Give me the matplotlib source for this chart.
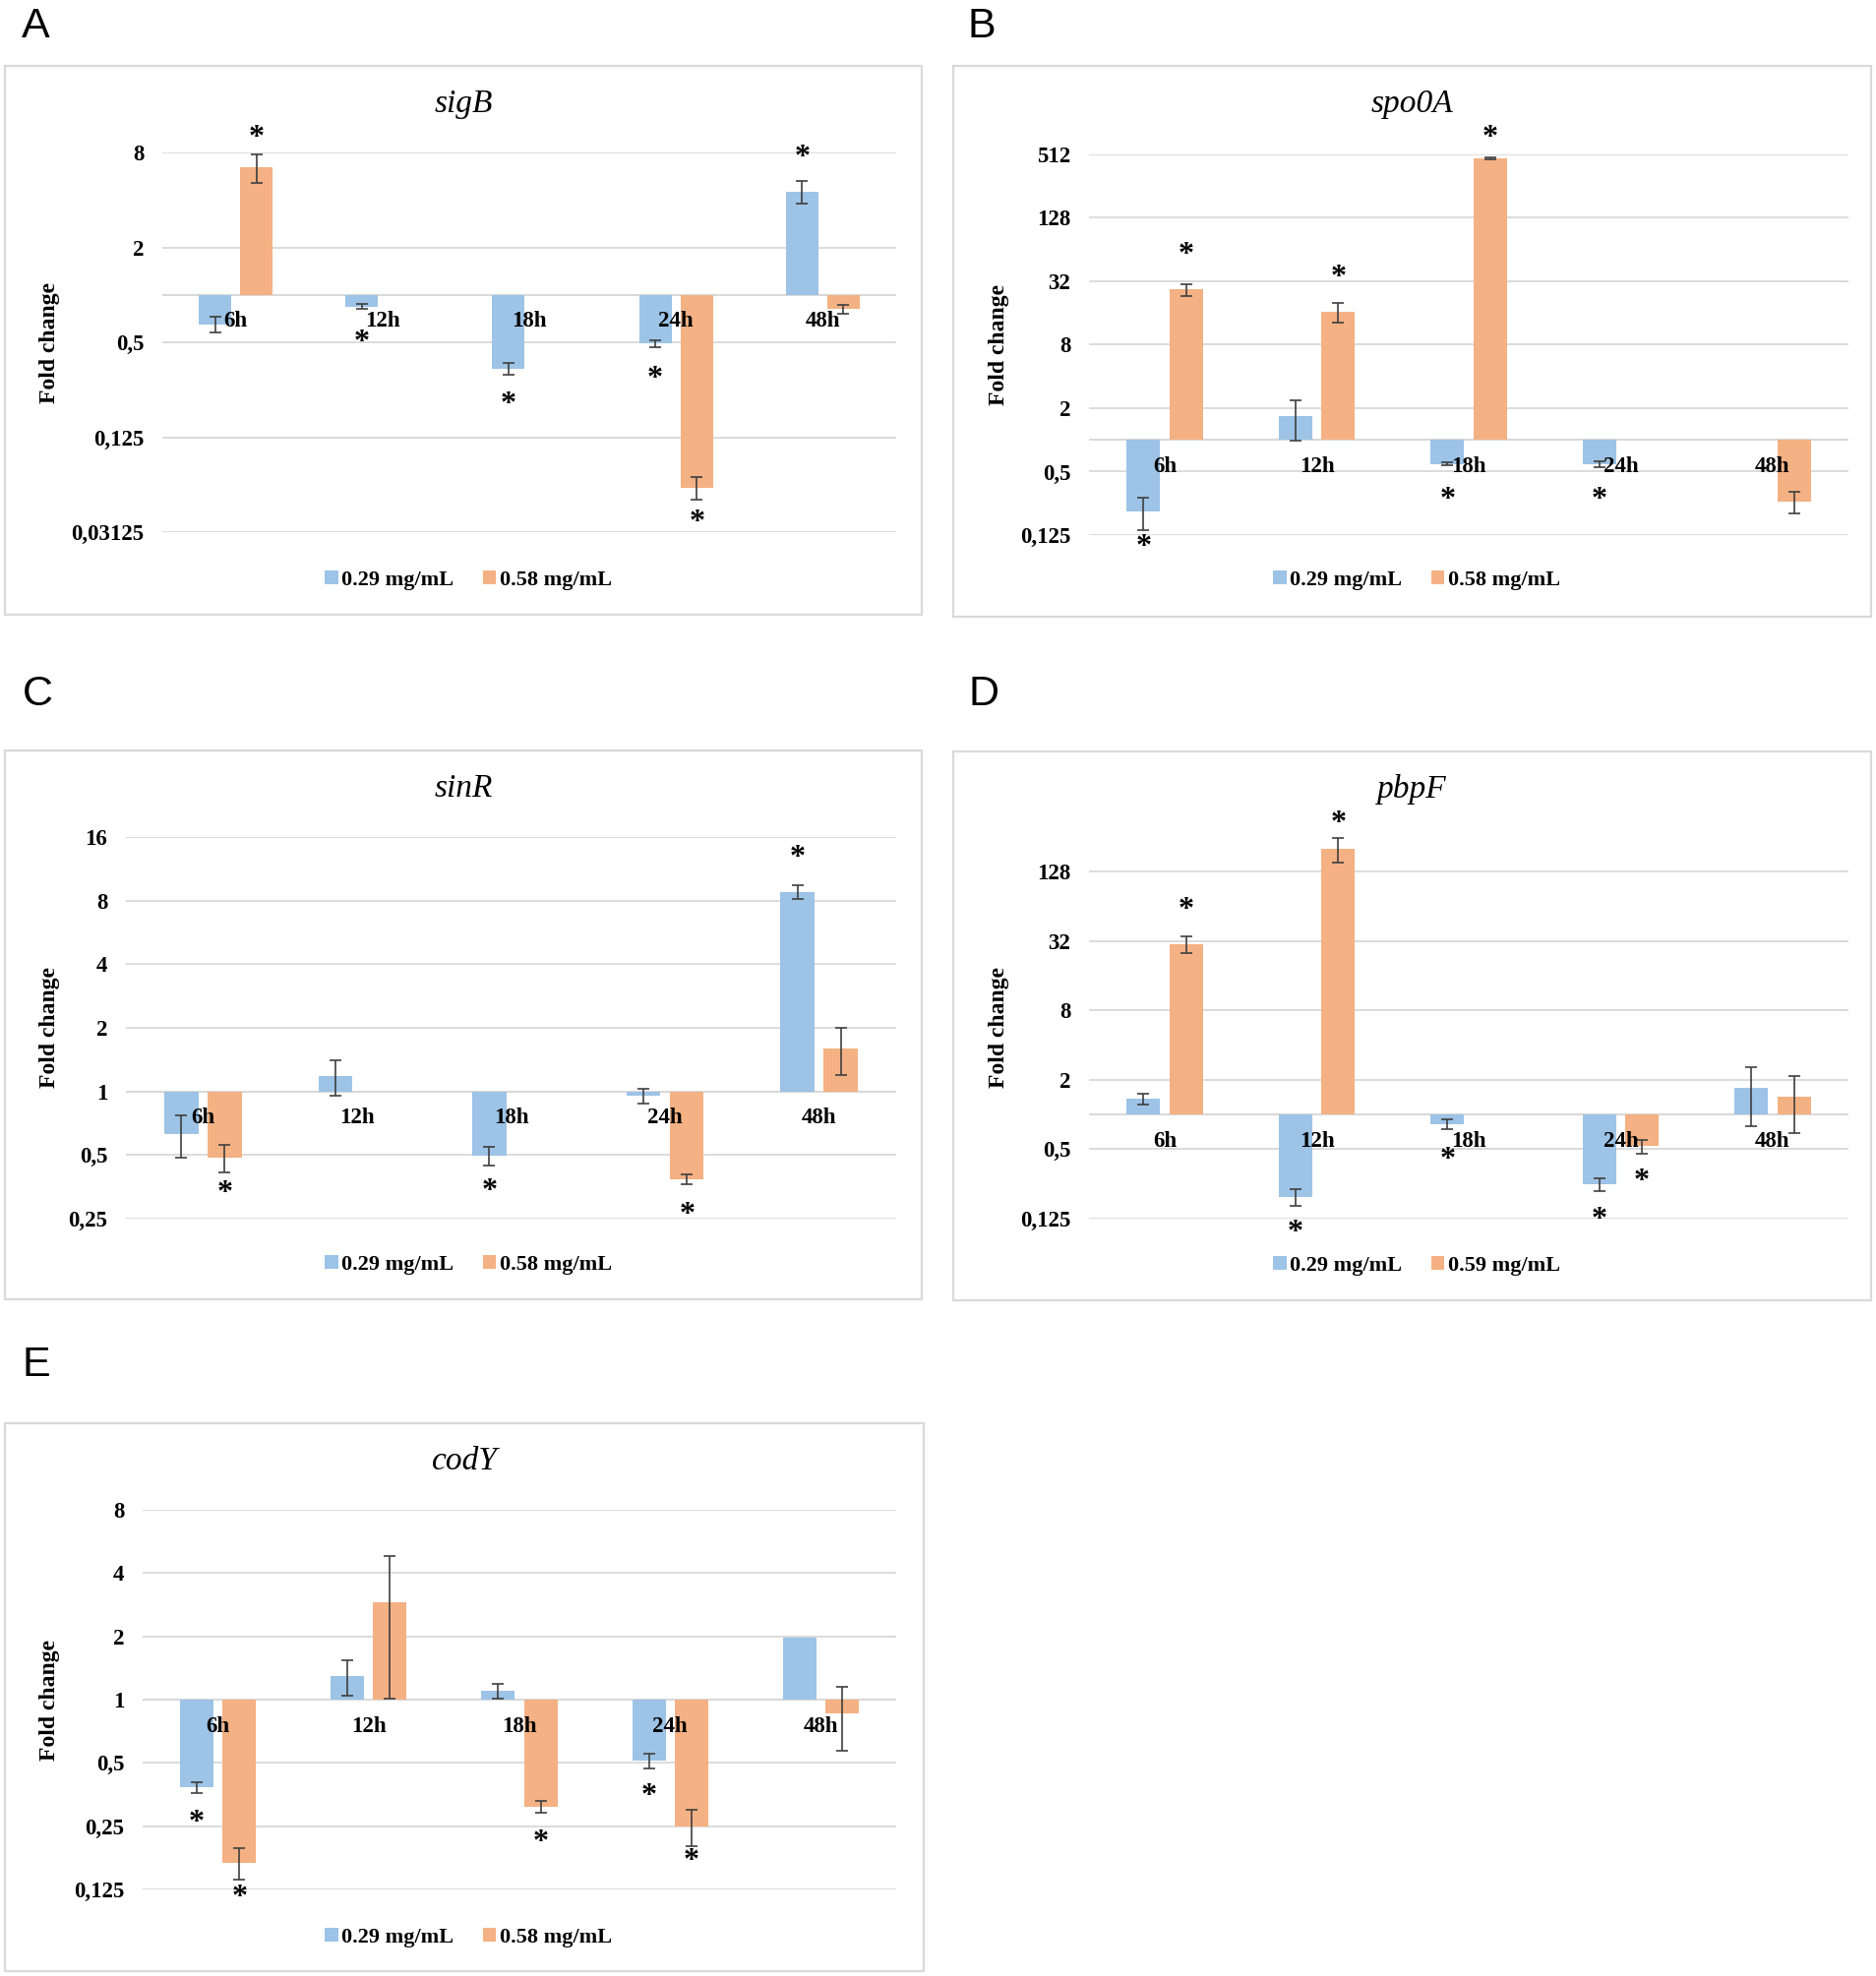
import numpy as np
import matplotlib
matplotlib.use("Agg")
import matplotlib.pyplot as plt
from matplotlib.patches import Patch, Rectangle

nan = np.nan

# ---------------- data ----------------
categories = ["6h", "12h", "18h", "24h", "48h"]

sigB_low = [0.65, 0.84, 0.34, 0.49, 4.52]
sigB_low_sd = [0.073, 0.03, 0.03, 0.024, 0.74]
sigB_high = [6.44, nan, nan, 0.06, 0.81]
sigB_high_sd = [1.3, 0, 0, 0.01, 0.047]
sigB_low_sig = [0, 1, 1, 1, 1]
sigB_high_sig = [1, 0, 0, 1, 0]
sigB_ticks = [8, 2, 0.5, 0.125, 0.03125]
sigB_ticklabels = ["8", "2", "0,5", "0,125", "0,03125"]

spo0A_low = [0.21, 1.69, 0.59, 0.59, nan]
spo0A_low_sd = [0.07, 0.7, 0.02, 0.04, 0]
spo0A_high = [26.8, 16.4, 469, nan, 0.261]
spo0A_high_sd = [3.5, 3.5, 8, 0, 0.06]
spo0A_low_sig = [1, 0, 1, 1, 0]
spo0A_high_sig = [1, 1, 1, 0, 0]
spo0A_ticks = [512, 128, 32, 8, 2, 0.5, 0.125]
spo0A_ticklabels = ["512", "128", "32", "8", "2", "0,5", "0,125"]

sinR_low = [0.627, 1.18, 0.496, 0.952, 8.78]
sinR_low_sd = [0.14, 0.23, 0.05, 0.08, 0.65]
sinR_high = [0.487, nan, nan, 0.383, 1.60]
sinR_high_sd = [0.072, 0, 0, 0.021, 0.4]
sinR_low_sig = [0, 0, 1, 0, 1]
sinR_high_sig = [1, 0, 0, 1, 0]
sinR_ticks = [16, 8, 4, 2, 1, 0.5, 0.25]
sinR_ticklabels = ["16", "8", "4", "2", "1", "0,5", "0,25"]

pbpF_low = [1.37, 0.193, 0.829, 0.248, 1.69]
pbpF_low_sd = [0.14, 0.032, 0.075, 0.03, 0.9]
pbpF_high = [30.2, 204, nan, 0.53, 1.42]
pbpF_high_sd = [4.9, 49, 0, 0.07, 0.73]
pbpF_low_sig = [0, 1, 1, 1, 0]
pbpF_high_sig = [1, 1, 0, 1, 0]
pbpF_ticks = [128, 32, 8, 2, 0.5, 0.125]
pbpF_ticklabels = ["128", "32", "8", "2", "0,5", "0,125"]

codY_low = [0.382, 1.29, 1.10, 0.511, 1.98]
codY_low_sd = [0.022, 0.25, 0.093, 0.039, 0]
codY_high = [0.168, 2.91, 0.31, 0.25, 0.859]
codY_high_sd = [0.029, 1.9, 0.02, 0.05, 0.29]
codY_low_sig = [1, 0, 0, 1, 0]
codY_high_sig = [1, 0, 1, 1, 0]
codY_ticks = [8, 4, 2, 1, 0.5, 0.25, 0.125]
codY_ticklabels = ["8", "4", "2", "1", "0,5", "0,25", "0,125"]

legend_low = "0.29 mg/mL"
legend_high_std = "0.58 mg/mL"
legend_high_pbpF = "0.59 mg/mL"

# ---------------- style ----------------
W, H = 1908, 2009
BLUE = "#9DC3E6"
ORANGE = "#F4B183"
GRID = "#D9D9D9"
ERR = "#3F3F3F"
SERIF = ["Liberation Serif", "DejaVu Serif"]
SANS = ["Liberation Sans", "DejaVu Sans"]

plt.rcParams["font.family"] = SERIF

fig = plt.figure(figsize=(W / 100, H / 100), dpi=100)

panels = [
    ("A", "sigB", sigB_low, sigB_low_sd, sigB_high, sigB_high_sd, sigB_low_sig, sigB_high_sig,
     sigB_ticks, sigB_ticklabels, legend_high_std,
     (5, 937, 67, 625), (165, 911, 155, 541), (2 ** -5, 2 ** 3), (22, 38), 476, 51),
    ("B", "spo0A", spo0A_low, spo0A_low_sd, spo0A_high, spo0A_high_sd, spo0A_low_sig, spo0A_high_sig,
     spo0A_ticks, spo0A_ticklabels, legend_high_std,
     (969, 1902, 67, 627), (1107, 1879, 157, 544), (2 ** -3, 2 ** 9), (984, 38), 1440, 1016),
    ("C", "sinR", sinR_low, sinR_low_sd, sinR_high, sinR_high_sd, sinR_low_sig, sinR_high_sig,
     sinR_ticks, sinR_ticklabels, legend_high_std,
     (5, 937, 763, 1321), (128, 911, 851, 1239), (2 ** -2, 2 ** 4), (23, 717), 476, 51),
    ("D", "pbpF", pbpF_low, pbpF_low_sd, pbpF_high, pbpF_high_sd, pbpF_low_sig, pbpF_high_sig,
     pbpF_ticks, pbpF_ticklabels, legend_high_pbpF,
     (969, 1902, 764, 1322), (1107, 1879, 851, 1239), (2 ** -3, 2 ** 8), (985, 717), 1440, 1016),
    ("E", "codY", codY_low, codY_low_sd, codY_high, codY_high_sd, codY_low_sig, codY_high_sig,
     codY_ticks, codY_ticklabels, legend_high_std,
     (5, 939, 1447, 2004), (145, 911, 1535, 1921), (2 ** -3, 2 ** 3), (23, 1399), 476, 51),
]

bw = 0.221
off = 0.141
x = np.arange(len(categories))

for (letter, title, low, low_sd, high, high_sd, low_sig, high_sig, ticks, ticklabels, leg_hi,
     box, axr, ylim, lpos, legx, ylabx) in panels:
    bx0, bx1, by0, by1 = box
    fig.patches.append(Rectangle((bx0 / W, 1 - by1 / H), (bx1 - bx0) / W, (by1 - by0) / H,
                                 transform=fig.transFigure, fill=False, edgecolor=GRID,
                                 linewidth=1.6, zorder=0))
    ax0, ax1, ay0, ay1 = axr
    ax = fig.add_axes([ax0 / W, 1 - ay1 / H, (ax1 - ax0) / W, (ay1 - ay0) / H])
    ax.set_facecolor("none")
    ax.set_yscale("log", base=2)
    ax.set_ylim(*ylim)
    ax.set_xlim(-0.5, len(categories) - 0.5)
    for s in ax.spines.values():
        s.set_visible(False)
    ax.set_yticks(ticks)
    ax.set_yticklabels(ticklabels)
    ax.yaxis.set_minor_locator(matplotlib.ticker.NullLocator())
    ax.tick_params(axis="y", length=0, pad=13.5, labelsize=16.5)
    for lab in ax.get_yticklabels():
        lab.set_fontweight("bold")
    ax.set_xticks([])
    for t in ticks:
        ax.axhline(t, color=GRID, lw=1.3, zorder=0)
    ax.axhline(1, color=GRID, lw=1.5, zorder=0)

    lo = np.array(low, dtype=float)
    hi = np.array(high, dtype=float)
    for vals, sds, color, dx in ((lo, low_sd, BLUE, -off), (hi, high_sd, ORANGE, off)):
        sd_all = np.array(sds, dtype=float)
        m = ~np.isnan(vals)
        ax.bar(x[m] + dx, vals[m] - 1, bottom=1, width=bw, color=color, zorder=2)
        me = m & (sd_all > 0)
        ax.errorbar(x[me] + dx, vals[me], yerr=sd_all[me], fmt="none", ecolor=ERR,
                    elinewidth=1.2, capsize=4.2, capthick=1.2, zorder=3)

    for i, c in enumerate(categories):
        ax.annotate(c, xy=(i, 1), xytext=(0, -19.5), textcoords="offset points",
                    ha="center", va="center", fontsize=16.5, fontweight="bold", zorder=4,
                    annotation_clip=False)

    for vals, sig, dx in ((lo, low_sig, -off), (hi, high_sig, off)):
        for i in range(len(categories)):
            if not sig[i] or np.isnan(vals[i]):
                continue
            px, py = ax.transData.transform((i + dx, vals[i]))
            if vals[i] > 1:
                cy = min(py + 42, H - (by0 + 66))
            else:
                cy = py - 29
            fig.text(px / W, (cy - 14.8) / H, "*", ha="center", va="baseline",
                     fontsize=23, fontweight="bold")

    fig.text(((bx0 + bx1) / 2) / W, 1 - (by0 + 39) / H, title, ha="center", va="center",
             fontsize=24, fontstyle="italic")
    fig.text(ylabx / W, 1 - ((ay0 + ay1) / 2) / H, "Fold change", rotation=90,
             ha="center", va="center", fontsize=17, fontweight="bold")
    fig.text(lpos[0] / W, 1 - lpos[1] / H, letter, ha="left", va="baseline",
             fontsize=31, family=SANS)
    handles = [Patch(facecolor=BLUE, edgecolor="none", label=legend_low),
               Patch(facecolor=ORANGE, edgecolor="none", label=leg_hi)]
    fig.legend(handles=handles, loc="center", ncol=2,
               bbox_to_anchor=(legx / W, 1 - (by0 + 523) / H),
               frameon=False, prop={"family": SERIF, "weight": "bold", "size": 16},
               handlelength=0.6, handleheight=0.6, handletextpad=0.15, columnspacing=1.35,
               borderaxespad=0, borderpad=0)

fig.savefig("out.png", dpi=100)
